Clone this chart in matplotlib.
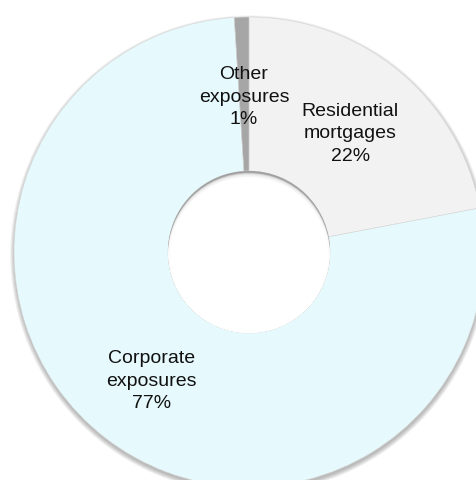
import matplotlib
matplotlib.use("Agg")
import matplotlib.pyplot as plt
from matplotlib.patches import Circle

categories = ["Residential\nmortgages", "Corporate\nexposures", "Other\nexposures"]
values = [22, 77, 1]
colors = ["#F2F2F2", "#E6F9FC", "#A6A6A6"]

plt.rcParams['font.family'] = ['Liberation Sans', 'DejaVu Sans']

W, H = 477, 481
fig = plt.figure(figsize=(W / 100, H / 100), dpi=100)
ax = fig.add_axes([0, 0, 1, 1])
ax.axis('off')

R_px = 235.0
cx, cy = 249.0, H - 253.0

hole = 81.0 / R_px
px = 1.0 / R_px

# outer soft shadow
for k in range(8):
    ax.add_patch(Circle((0.3 * px, -2.5 * px), 1 + k * 0.6 * px,
                        facecolor='black', edgecolor='none', alpha=0.035, zorder=0))

labels = [f"{c}\n{v}%" for c, v in zip(categories, values)]
wedges, texts = ax.pie(values, labels=labels, colors=colors, startangle=90,
                       counterclock=False, radius=1,
                       wedgeprops=dict(width=1 - hole, edgecolor='#d8d8d8', linewidth=0.4),
                       labeldistance=0.675,
                       textprops=dict(fontsize=14, color='#111111'))
for t in texts:
    t.set_ha('center')
    t.set_va('center')
    t.set_linespacing(1.42)
    t.set_zorder(10)
    x, y = t.get_position()
    t.set_position((x, y - 3 * px))

ax.set_xlim(-cx / R_px, (W - cx) / R_px)
ax.set_ylim(-cy / R_px, (H - cy) / R_px)
ax.set_aspect('equal')

# hole with inner shadow
clip = Circle((0, 0), hole, transform=ax.transData)
base = Circle((0, 0), hole, facecolor='#a0a0a0', edgecolor='none', zorder=3)
ax.add_patch(base)
for off in [8, 7, 6, 5, 4, 3.2, 2.5, 1.8]:
    c = Circle((0, -off * px), hole, facecolor='white', edgecolor='none',
               alpha=0.4, zorder=4)
    ax.add_patch(c)
    c.set_clip_path(clip)
top = Circle((0, -4 * px), hole - 2 * px, facecolor='white', edgecolor='none', zorder=5)
ax.add_patch(top)
top.set_clip_path(clip)

fig.savefig("out.png", dpi=100, facecolor='white')
